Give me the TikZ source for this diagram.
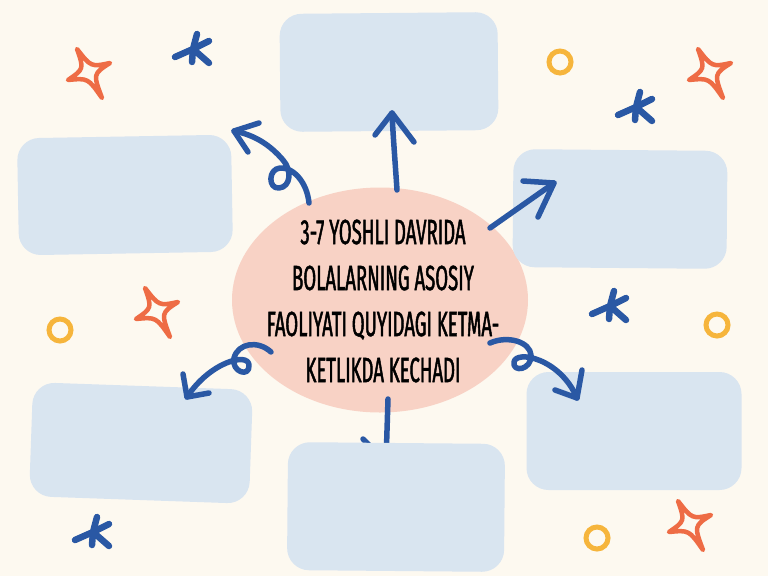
\documentclass[tikz,border=0pt]{standalone}
\usepackage{fontspec}
\newfontfamily\titlefont{Fira Sans}[FakeStretch=0.53, FakeBold=1.3]
\usetikzlibrary{shapes.geometric}
\definecolor{bgc}{HTML}{FDF9F0}
\definecolor{boxc}{HTML}{D9E5F0}
\definecolor{pinkc}{HTML}{F8D2C5}
\definecolor{bluec}{HTML}{2A58A4}
\definecolor{orangec}{HTML}{EE6C45}
\definecolor{yellowc}{HTML}{F6B53C}
\tikzset{
  box/.style={fill=boxc, rounded corners=22pt, inner sep=0pt},
  arr/.style={draw=bluec, line width=5.5pt, line cap=round, line join=round},
  sparkstyle/.style={draw=orangec, line width=4.5pt, line cap=round, line join=round},
  astyle/.style={draw=bluec, line width=6.5pt, line cap=round},
  ringstyle/.style={draw=yellowc, line width=5pt},
  sparkle/.pic={\path[sparkstyle] (-12,-24) .. controls (2,-6) .. (21,-10) .. controls (4,1) .. (13,25) .. controls (-1,5) .. (-21,7) .. controls (-5,-4) .. (-12,-24) -- cycle;},
  aster/.pic={\path[astyle] (0,0)--(4,-15) (0,0)--(16,-8) (0,0)--(16,14) (0,0)--(-1,13) (0,0)--(-18,8);},
}
\begin{document}
\begin{tikzpicture}[x=1pt,y=-1pt]
\fill[bgc] (0,0) rectangle (768,576);
\path[use as bounding box] (0,0) rectangle (768,576);
% centre blob
\node[ellipse, fill=pinkc, minimum width=296pt, minimum height=225pt, inner sep=0pt] (blob) at (380,300) {};
% boxes
\node[box, minimum width=218pt, minimum height=118pt, rotate=0.5] (btop) at (389,72) {};
\node[box, minimum width=214pt, minimum height=117pt, rotate=1] (blt) at (125,195) {};
\node[box, minimum width=214pt, minimum height=118pt, rotate=-0.5] (brt) at (620,209) {};
\node[box, minimum width=220pt, minimum height=114pt, rotate=-2] (blb) at (141,443) {};
\node[box, minimum width=215pt, minimum height=118pt] (brb) at (634,431) {};
% arrows
\coordinate (a1s) at (309,203); \coordinate (a1t) at (234,131);
\path[arr] (a1s) .. controls (307,182) and (293,167) .. (280,168) .. controls (268,169) and (268,189) .. (279,188) .. controls (291,187) and (292,170) .. (283,160) .. controls (270,145) and (255,135) .. (a1t);
\path[arr] (259,123) -- (a1t) -- (248,152);
\coordinate (a2s) at (397,190); \coordinate (a2t) at (392,113);
\path[arr] (a2s) .. controls (395,160) and (393,135) .. (a2t);
\path[arr] (375,135) -- (a2t) -- (414,142);
\coordinate (a3s) at (490,228); \coordinate (a3t) at (554,183);
\path[arr] (a3s) -- (a3t);
\path[arr] (523,181) -- (a3t) -- (538,217);
\coordinate (a4s) at (271,352); \coordinate (a4t) at (187,397);
\path[arr] (a4s) .. controls (258,340) and (238,343) .. (234,358) .. controls (231,372) and (250,378) .. (249,365) .. controls (248,352) and (210,362) .. (a4t);
\path[arr] (183,374) -- (a4t) -- (209,393);
\coordinate (a5s) at (490,343); \coordinate (a5t) at (577,398);
\path[arr] (a5s) .. controls (508,335) and (530,342) .. (531,355) .. controls (532,370) and (512,373) .. (514,362) .. controls (516,350) and (560,358) .. (a5t);
\path[arr] (582,370) -- (a5t) -- (555,390);
\coordinate (a6s) at (388,399); \coordinate (a6t) at (386,462);
\path[arr] (a6s) -- (a6t) -- (363,439);
\node[box, minimum width=217pt, minimum height=128pt, rotate=-0.5] (bbot) at (396,507) {};
% title
\node[font=\titlefont\fontsize{35}{46}\selectfont, align=center, inner sep=0pt] (title) at (383,301) {3-7 YOSHLI DAVRIDA\\BOLALARNING ASOSIY\\FAOLIYATI QUYIDAGI KETMA-\\KETLIKDA KECHADI};
% decorations
\pic at (89,73) {sparkle};
\pic at (710,73) {sparkle};
\pic at (157,312) {sparkle};
\pic at (690,525) {sparkle};
\pic at (193,49) {aster};
\pic at (636,107) {aster};
\pic at (610,306) {aster};
\pic at (93,532) {aster};
\draw[ringstyle] (560,62) circle[radius=11pt];
\draw[ringstyle] (60,330) circle[radius=11pt];
\draw[ringstyle] (717,325) circle[radius=11pt];
\draw[ringstyle] (597,538) circle[radius=11pt];
\end{tikzpicture}
\end{document}
